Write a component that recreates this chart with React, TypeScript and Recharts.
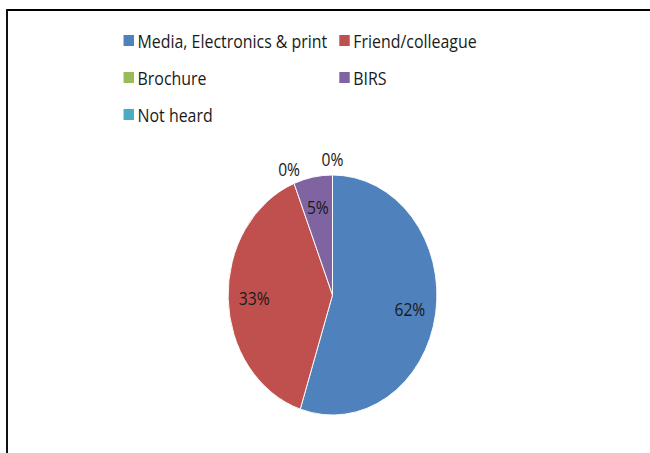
import React from 'react';
import { PieChart, Pie, Cell, Legend } from 'recharts';

const categories = ['Media, Electronics & print', 'Friend/colleague', 'Brochure', 'BIRS', 'Not heard'];
const sliceValues = [55, 39, 0, 6, 0];
const labelTexts = ['62%', '33%', '0%', '5%', '0%'];
const colors = ['#4F81BD', '#C0504D', '#9BBB59', '#8064A2', '#4BACC6'];

const data = categories.map((name, i) => ({ name, value: sliceValues[i] }));

const SX = 0.87;
const W = 650 / SX;
const H = 453;
const FONT = '"Open Sans", "Noto Sans", sans-serif';
const RAD = Math.PI / 180;

const renderLabel = (props: any) => {
  const { cx, cy, midAngle, outerRadius, index, value } = props;
  const f = value === 0 ? 1.13 : 0.75;
  const r = outerRadius * f;
  const x = cx + r * Math.cos(-midAngle * RAD);
  const y = cy + r * Math.sin(-midAngle * RAD);
  return (
    <text
      x={x}
      y={y}
      textAnchor="middle"
      dominantBaseline="central"
      fill="#1a1a1a"
      fontFamily={FONT}
      fontSize={18}
    >
      {labelTexts[index]}
    </text>
  );
};

const legendCols = [141.5, 389.5];
const legendRows = [40.5, 77.5, 114.5];

const renderLegend = () => (
  <div style={{ position: 'relative', width: W, height: 140 }}>
    {categories.map((name, i) => {
      const col = i % 2;
      const row = Math.floor(i / 2);
      const left = legendCols[col];
      const top = legendRows[row];
      return (
        <div
          key={name}
          style={{
            position: 'absolute',
            left,
            top: top - 12,
            height: 24,
            display: 'flex',
            alignItems: 'center',
            whiteSpace: 'nowrap',
            fontFamily: FONT,
            fontSize: 18.3,
            color: '#1a1a1a',
          }}
        >
          <span
            style={{
              display: 'inline-block',
              width: 12.6,
              height: 11,
              background: colors[i],
              marginRight: 4,
            }}
          />
          <span>{name}</span>
        </div>
      );
    })}
  </div>
);

export default function App() {
  return (
    <div
      style={{
        position: 'absolute',
        left: 0,
        top: 0,
        width: 650,
        height: 453,
        overflow: 'hidden',
        background: '#fff',
      }}
    >
      <div style={{ position: 'absolute', left: 6, top: 8.5, width: 644, height: 2, background: '#000' }} />
      <div style={{ position: 'absolute', left: 6, top: 8.5, width: 1.5, height: 445, background: '#111' }} />
      <div
        style={{
          position: 'absolute',
          left: 0,
          top: 0,
          width: W,
          height: H,
          transform: `scaleX(${SX})`,
          transformOrigin: '0 0',
        }}
      >
        <PieChart width={W} height={H} margin={{ top: 0, right: 0, bottom: 0, left: 0 }}>
          <Legend
            content={renderLegend}
            wrapperStyle={{ position: 'absolute', left: 0, top: 0, width: W, height: 140 }}
          />
          <Pie
            data={data}
            dataKey="value"
            nameKey="name"
            cx={382.2}
            cy={295}
            outerRadius={120}
            startAngle={90}
            endAngle={-270}
            stroke="#ffffff"
            strokeWidth={1}
            label={renderLabel}
            labelLine={false}
            isAnimationActive={false}
          >
            {data.map((d, i) => (
              <Cell key={d.name} fill={colors[i]} />
            ))}
          </Pie>
        </PieChart>
      </div>
    </div>
  );
}
